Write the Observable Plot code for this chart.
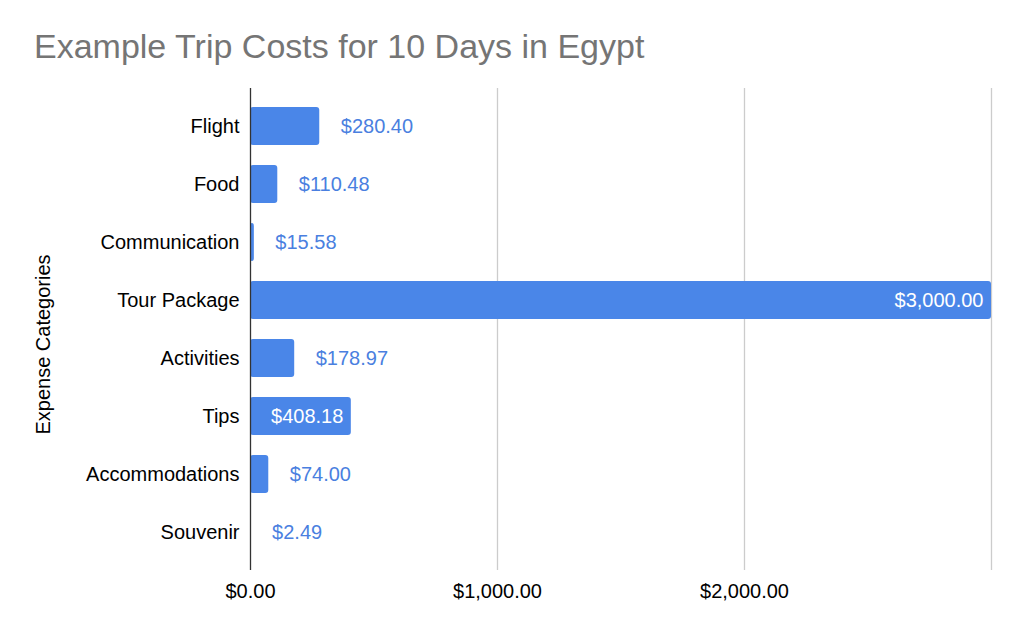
<!DOCTYPE html>
<html>
<head>
<meta charset="utf-8">
<script src="https://cdn.jsdelivr.net/npm/d3@7"></script>
<script src="https://cdn.jsdelivr.net/npm/@observablehq/plot@0.6"></script>
<style>
  html, body { margin: 0; padding: 0; background: #fff; }
  #wrap { width: 1024px; height: 633px; position: relative; overflow: hidden; font-family: "Liberation Sans", Arial, sans-serif; }
  #title { position: relative; height: 70px; }
  #title span { position: absolute; left: 34px; top: 29px; font-size: 34px; line-height: 1; color: #757575; white-space: nowrap; }
</style>
</head>
<body>
<div id="wrap">
  <div id="title"><span>Example Trip Costs for 10 Days in Egypt</span></div>
  <div id="chart"></div>
</div>
<script>
const categories = ["Flight", "Food", "Communication", "Tour Package", "Activities", "Tips", "Accommodations", "Souvenir"];
const costs = [280.40, 110.48, 15.58, 3000.00, 178.97, 408.18, 74.00, 2.49];
const xTicks = [0, 1000, 2000];
const gridTicks = [1000, 2000, 3000];
const yAxisTitle = "Expense Categories";

const data = categories.map((c, i) => ({category: c, value: costs[i]}));
const fmt = d3.format("$,.2f");
const insideRule = d => d.value > 350;
const inside = data.filter(insideRule);
const outside = data.filter(d => !insideRule(d));

const BLUE = "#4a86e8";

const plot = Plot.plot({
  width: 1024,
  height: 563,
  marginTop: 18,
  marginBottom: 63,
  marginLeft: 250,
  marginRight: 33,
  style: {fontFamily: "'Liberation Sans', Arial, sans-serif", fontSize: "20px", color: "#000", background: "#fff"},
  x: {domain: [0, 3000], nice: false},
  y: {domain: categories, paddingInner: 0.35, paddingOuter: 0.33, align: 0.5},
  marks: [
    Plot.ruleX(gridTicks, {stroke: "#cccccc", strokeWidth: 1.3}),
    Plot.barX(data, {x: "value", y: "category", fill: BLUE, rx: 3}),
    Plot.ruleX([0], {stroke: "#333", strokeWidth: 1.3}),
    Plot.text(outside, {x: "value", y: "category", text: d => fmt(d.value), textAnchor: "start", dx: 21, fill: "#4a7fe0", fontSize: 20}),
    Plot.text(inside, {x: "value", y: "category", text: d => fmt(d.value), textAnchor: "end", dx: -8, fill: "#ffffff", fontSize: 20}),
    Plot.axisX(xTicks, {tickSize: 0, tickPadding: 13, tickFormat: d => fmt(d), fontSize: 20, label: null}),
    Plot.axisY({tickSize: 0, tickPadding: 11, fontSize: 20, label: null}),
    Plot.text([yAxisTitle], {frameAnchor: "left", textAnchor: "middle", text: d => d, rotate: -90, dx: -207, dy: 15, fontSize: 20, fill: "#000"})
  ]
});
document.getElementById("chart").appendChild(plot);
</script>
</body>
</html>
